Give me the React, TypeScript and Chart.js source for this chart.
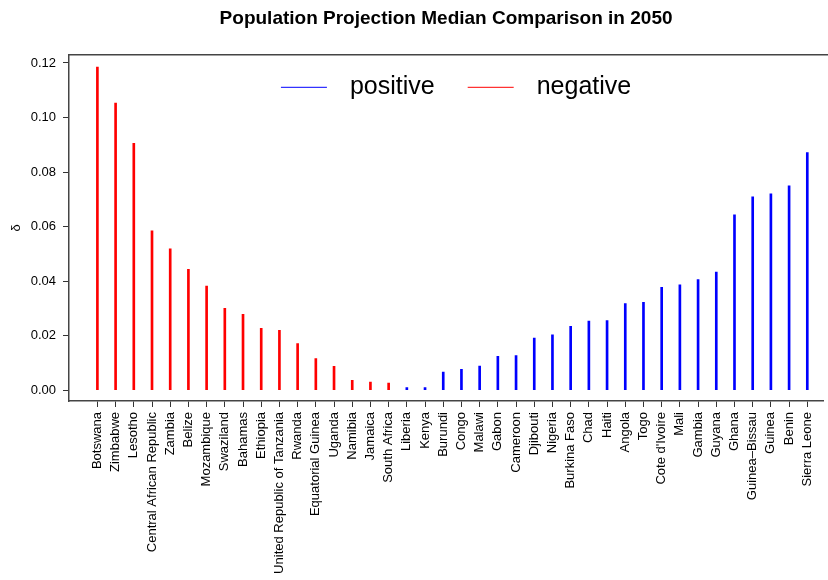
import { useEffect, useRef } from "react"
import { Chart, registerables } from "chart.js"

Chart.register(...registerables)

// Countries in plotting order
const countries = [
  "Botswana",
  "Zimbabwe",
  "Lesotho",
  "Central African Republic",
  "Zambia",
  "Belize",
  "Mozambique",
  "Swaziland",
  "Bahamas",
  "Ethiopia",
  "United Republic of Tanzania",
  "Rwanda",
  "Equatorial Guinea",
  "Uganda",
  "Namibia",
  "Jamaica",
  "South Africa",
  "Liberia",
  "Kenya",
  "Burundi",
  "Congo",
  "Malawi",
  "Gabon",
  "Cameroon",
  "Djibouti",
  "Nigeria",
  "Burkina Faso",
  "Chad",
  "Haiti",
  "Angola",
  "Togo",
  "Cote d'Ivoire",
  "Mali",
  "Gambia",
  "Guyana",
  "Ghana",
  "Guinea–Bissau",
  "Guinea",
  "Benin",
  "Sierra Leone",
]

// delta (absolute difference of projected medians)
const deltaValues = [
  0.1185, 0.1053, 0.0905, 0.0584, 0.0518, 0.0443, 0.0382, 0.03, 0.0278, 0.0227,
  0.0219, 0.0171, 0.0116, 0.0087, 0.0036, 0.0029, 0.0026, 0.0009, 0.0009, 0.0066,
  0.0076, 0.0088, 0.0124, 0.0127, 0.0191, 0.0203, 0.0234, 0.0253, 0.0255, 0.0317,
  0.0322, 0.0377, 0.0386, 0.0405, 0.0433, 0.0643, 0.0709, 0.072, 0.0749, 0.0871,
]

const directions = [
  "negative", "negative", "negative", "negative", "negative", "negative", "negative",
  "negative", "negative", "negative", "negative", "negative", "negative", "negative",
  "negative", "negative", "negative", "positive", "positive", "positive", "positive",
  "positive", "positive", "positive", "positive", "positive", "positive", "positive",
  "positive", "positive", "positive", "positive", "positive", "positive", "positive",
  "positive", "positive", "positive", "positive", "positive",
]

const seriesNames = ["positive", "negative"]
const yTickValues = [0, 0.02, 0.04, 0.06, 0.08, 0.1, 0.12]

const FONT = "'Liberation Sans', Arial, Helvetica, sans-serif"
const seriesColors: Record<string, string> = { positive: "#0000FF", negative: "#FF0000" }

// R-style box: only the top edge is missing from the axis borders
const topFrame = {
  id: "topFrame",
  afterDraw(chart: Chart) {
    const { ctx, chartArea } = chart
    ctx.save()
    ctx.strokeStyle = "#444"
    ctx.lineWidth = 1.5
    ctx.beginPath()
    ctx.moveTo(chartArea.left, chartArea.top)
    ctx.lineTo(chart.width, chartArea.top)
    ctx.stroke()
    ctx.restore()
  },
}

// horizontal legend drawn inside the plot box, like R's legend(horiz = TRUE)
const insideLegend = {
  id: "insideLegend",
  afterDraw(chart: Chart) {
    const { ctx, chartArea } = chart
    const lineLen = 46
    const textGap = 23
    const itemGap = 33
    ctx.save()
    ctx.font = `25px ${FONT}`
    ctx.textBaseline = "middle"
    const items = chart.data.datasets.map((ds: any) => ({
      label: ds.label as string,
      color: ds.backgroundColor as string,
      width: ctx.measureText(ds.label).width,
    }))
    const total =
      items.reduce((s, it) => s + lineLen + textGap + it.width, 0) + itemGap * (items.length - 1)
    let x = (chartArea.left + chartArea.right) / 2 + 10 - total / 2
    const y = chartArea.top + 32
    items.forEach((it) => {
      ctx.strokeStyle = it.color
      ctx.lineWidth = 1
      ctx.beginPath()
      ctx.moveTo(x, y + 0.5)
      ctx.lineTo(x + lineLen, y + 0.5)
      ctx.stroke()
      ctx.fillStyle = "#000"
      ctx.fillText(it.label, x + lineLen + textGap, y)
      x += lineLen + textGap + it.width + itemGap
    })
    ctx.restore()
  },
}

export default function App() {
  const chartRef = useRef<HTMLCanvasElement>(null)
  const chartInstance = useRef<Chart | null>(null)

  useEffect(() => {
    if (!chartRef.current) return

    if (chartInstance.current) {
      chartInstance.current.destroy()
    }

    const datasets = seriesNames.map((name) => ({
      label: name,
      data: countries
        .map((_, i) => (directions[i] === name ? { x: i, y: deltaValues[i] } : null))
        .filter((p) => p !== null),
      backgroundColor: seriesColors[name],
      borderWidth: 0,
      barThickness: 2,
      grouped: false,
    }))

    chartInstance.current = new Chart(chartRef.current, {
      type: "bar",
      data: { datasets: datasets as any },
      plugins: [topFrame, insideLegend],
      options: {
        responsive: true,
        maintainAspectRatio: false,
        animation: false,
        events: [],
        layout: { padding: 0 },
        scales: {
          x: {
            type: "linear",
            offset: false,
            min: -1.56,
            max: 39.87,
            afterFit: (scale: any) => {
              scale.height = 179
            },
            afterBuildTicks: (scale: any) => {
              scale.ticks = countries.map((_, i) => ({ value: i }))
            },
            ticks: {
              autoSkip: false,
              minRotation: 90,
              maxRotation: 90,
              padding: 5,
              color: "#000",
              font: { family: FONT, size: 13 },
              callback: (value: any) => countries[value as number] ?? "",
            },
            grid: {
              drawOnChartArea: false,
              drawTicks: true,
              tickLength: 6,
              offset: false,
              color: "#333",
            },
            border: { display: true, color: "#444", width: 1.5 },
          },
          y: {
            type: "linear",
            min: -0.004,
            max: 0.123,
            afterFit: (scale: any) => {
              scale.width = 69
            },
            afterBuildTicks: (scale: any) => {
              scale.ticks = yTickValues.map((v) => ({ value: v }))
            },
            ticks: {
              padding: 7,
              color: "#000",
              font: { family: FONT, size: 13 },
              callback: (value: any) => Number(value).toFixed(2),
            },
            grid: {
              drawOnChartArea: false,
              drawTicks: true,
              tickLength: 6,
              color: "#333",
            },
            border: { display: true, color: "#444", width: 1.5 },
            title: {
              display: true,
              text: "δ",
              color: "#000",
              font: { family: FONT, size: 13 },
              padding: { top: 9, bottom: 0 },
            },
          },
        },
        plugins: {
          title: {
            display: true,
            fullSize: false,
            text: "Population Projection Median Comparison in 2050",
            color: "#000",
            font: { family: FONT, size: 19, weight: "bold" },
            padding: { top: 7, bottom: 25 },
          },
          legend: { display: false },
          tooltip: { enabled: false },
        },
      },
    })

    return () => {
      if (chartInstance.current) {
        chartInstance.current.destroy()
        chartInstance.current = null
      }
    }
  }, [])

  return (
    <div style={{ position: "absolute", left: 0, top: 0, width: 828, height: 580, background: "#fff" }}>
      <canvas ref={chartRef} />
    </div>
  )
}
